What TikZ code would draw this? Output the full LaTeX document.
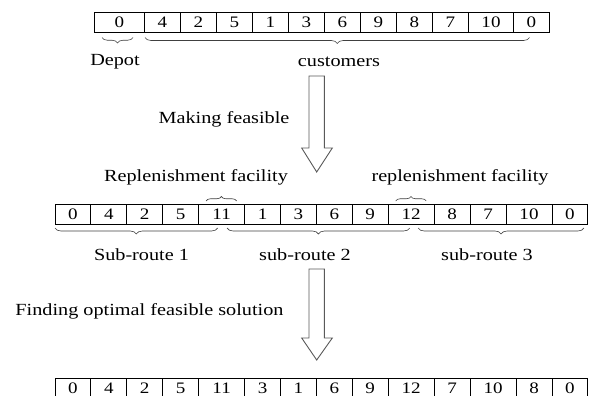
\documentclass[tikz,border=0pt]{standalone}
\usepackage{fontspec}
\setmainfont{Liberation Serif}
\usetikzlibrary{decorations.pathreplacing}

\newcommand{\wide}[1]{\scalebox{1.19}[1]{#1}}

\tikzset{
    cell/.style={draw, line width=0.9pt, outer sep=0pt, inner sep=0pt,
        minimum height=20pt, font=\fontsize{16}{16}\selectfont},
    txt/.style={inner sep=0pt, font=\fontsize{17}{17}\selectfont},
    curly/.style={decorate, decoration={brace, amplitude=#1},
        line width=0.6pt, black!75},
    curly/.default=6pt,
    hollow/.style={line width=0.9pt, black!65}
}

\begin{document}
\begin{tikzpicture}[x=1pt, y=-1pt]
    \useasboundingbox (0,0) rectangle (592,396);

    % Parametry
    \def\n{35.9} % zwykla komorka
    \def\W{46}   % szeroka komorka

    % Trasa poczatkowa
    \coordinate (t0) at (94.5,22);
    \foreach \t/\w [count=\i, remember=\i as \p (initially 0)] in
        {0/50, 4/36, 2/36, 5/36, 1/36, 3/36, 6/36, 9/36, 8/36, 7/36, 10/45, 0/36}
        \node[cell, minimum width=\w, anchor=west] (t\i) at (t\p.east) {\wide{\t}};

    \draw[curly=5.5pt, decoration={mirror}] ([shift={(7.5,5.5)}]t1.south west)
        -- ([shift={(-11.5,5.5)}]t1.south east);
    \draw[curly, decoration={mirror}] ([shift={(0.5,5.5)}]t2.south west)
        -- ([shift={(-2,5.5)}]t12.south);
    \node[txt] (depot) at (115,62) {\wide{Depot}};
    \node[txt] (cust) at (339,62) {\wide{customers}};

    % Strzalki
    \foreach \ya/\yb/\yc in {76/148/172, 269/338/360}
        \draw[hollow] (309,\ya) -- (324.4,\ya) -- (324.4,\yb) -- (332.3,\yb)
            -- (316.7,\yc) -- (301.7,\yb) -- (309,\yb) -- cycle;
    \node[txt] (feas) at (224,119.5) {\wide{Making feasible}};

    % Trasa dopuszczalna
    \coordinate (m0) at (55,214);
    \foreach \t/\w [count=\i, remember=\i as \p (initially 0)] in
        {0/\n, 4/\n, 2/\n, 5/\n, 11/\W, 1/\n, 3/\n, 6/\n, 9/\n, 12/\W, 8/\n, 7/\n, 10/\W, 0/\n}
        \node[cell, minimum width=\w, anchor=west] (m\i) at (m\p.east) {\wide{\t}};

    \draw[curly=4.5pt] ([shift={(7.5,-3)}]m5.north west)
        -- ([shift={(-8,-3)}]m5.north east);
    \draw[curly=4.5pt] ([shift={(7.5,-3)}]m10.north west)
        -- ([shift={(-8,-3)}]m10.north east);
    \node[txt] (rep1) at (196,177) {\wide{Replenishment facility}};
    \node[txt] (rep2) at (460,177) {\wide{replenishment facility}};

    \draw[curly, decoration={mirror}] ([shift={(0,4)}]m1.south west)
        -- ([shift={(-27,4)}]m5.south east);
    \draw[curly, decoration={mirror}] ([shift={(-17.5,4)}]m5.south east)
        -- ([shift={(-24.5,4)}]m10.south east);
    \draw[curly, decoration={mirror}] ([shift={(-16,4)}]m10.south east)
        -- ([shift={(-4,4)}]m14.south east);
    \node[txt] (sub1) at (141.5,255) {\wide{Sub-route 1}};
    \node[txt] (sub2) at (305,255) {\wide{sub-route 2}};
    \node[txt] (sub3) at (487,255) {\wide{sub-route 3}};

    \node[txt] (opt) at (149.5,311.7) {\wide{Finding optimal feasible solution}};

    % Trasa optymalna
    \coordinate (b0) at (55,388.5);
    \foreach \t/\w [count=\i, remember=\i as \p (initially 0)] in
        {0/\n, 4/\n, 2/\n, 5/\n, 11/\W, 3/\n, 1/\n, 6/\n, 9/\n, 12/\W, 7/\n, 10/\W, 8/\n, 0/\n}
        \node[cell, minimum width=\w, anchor=west] (b\i) at (b\p.east) {\wide{\t}};
\end{tikzpicture}
\end{document}
